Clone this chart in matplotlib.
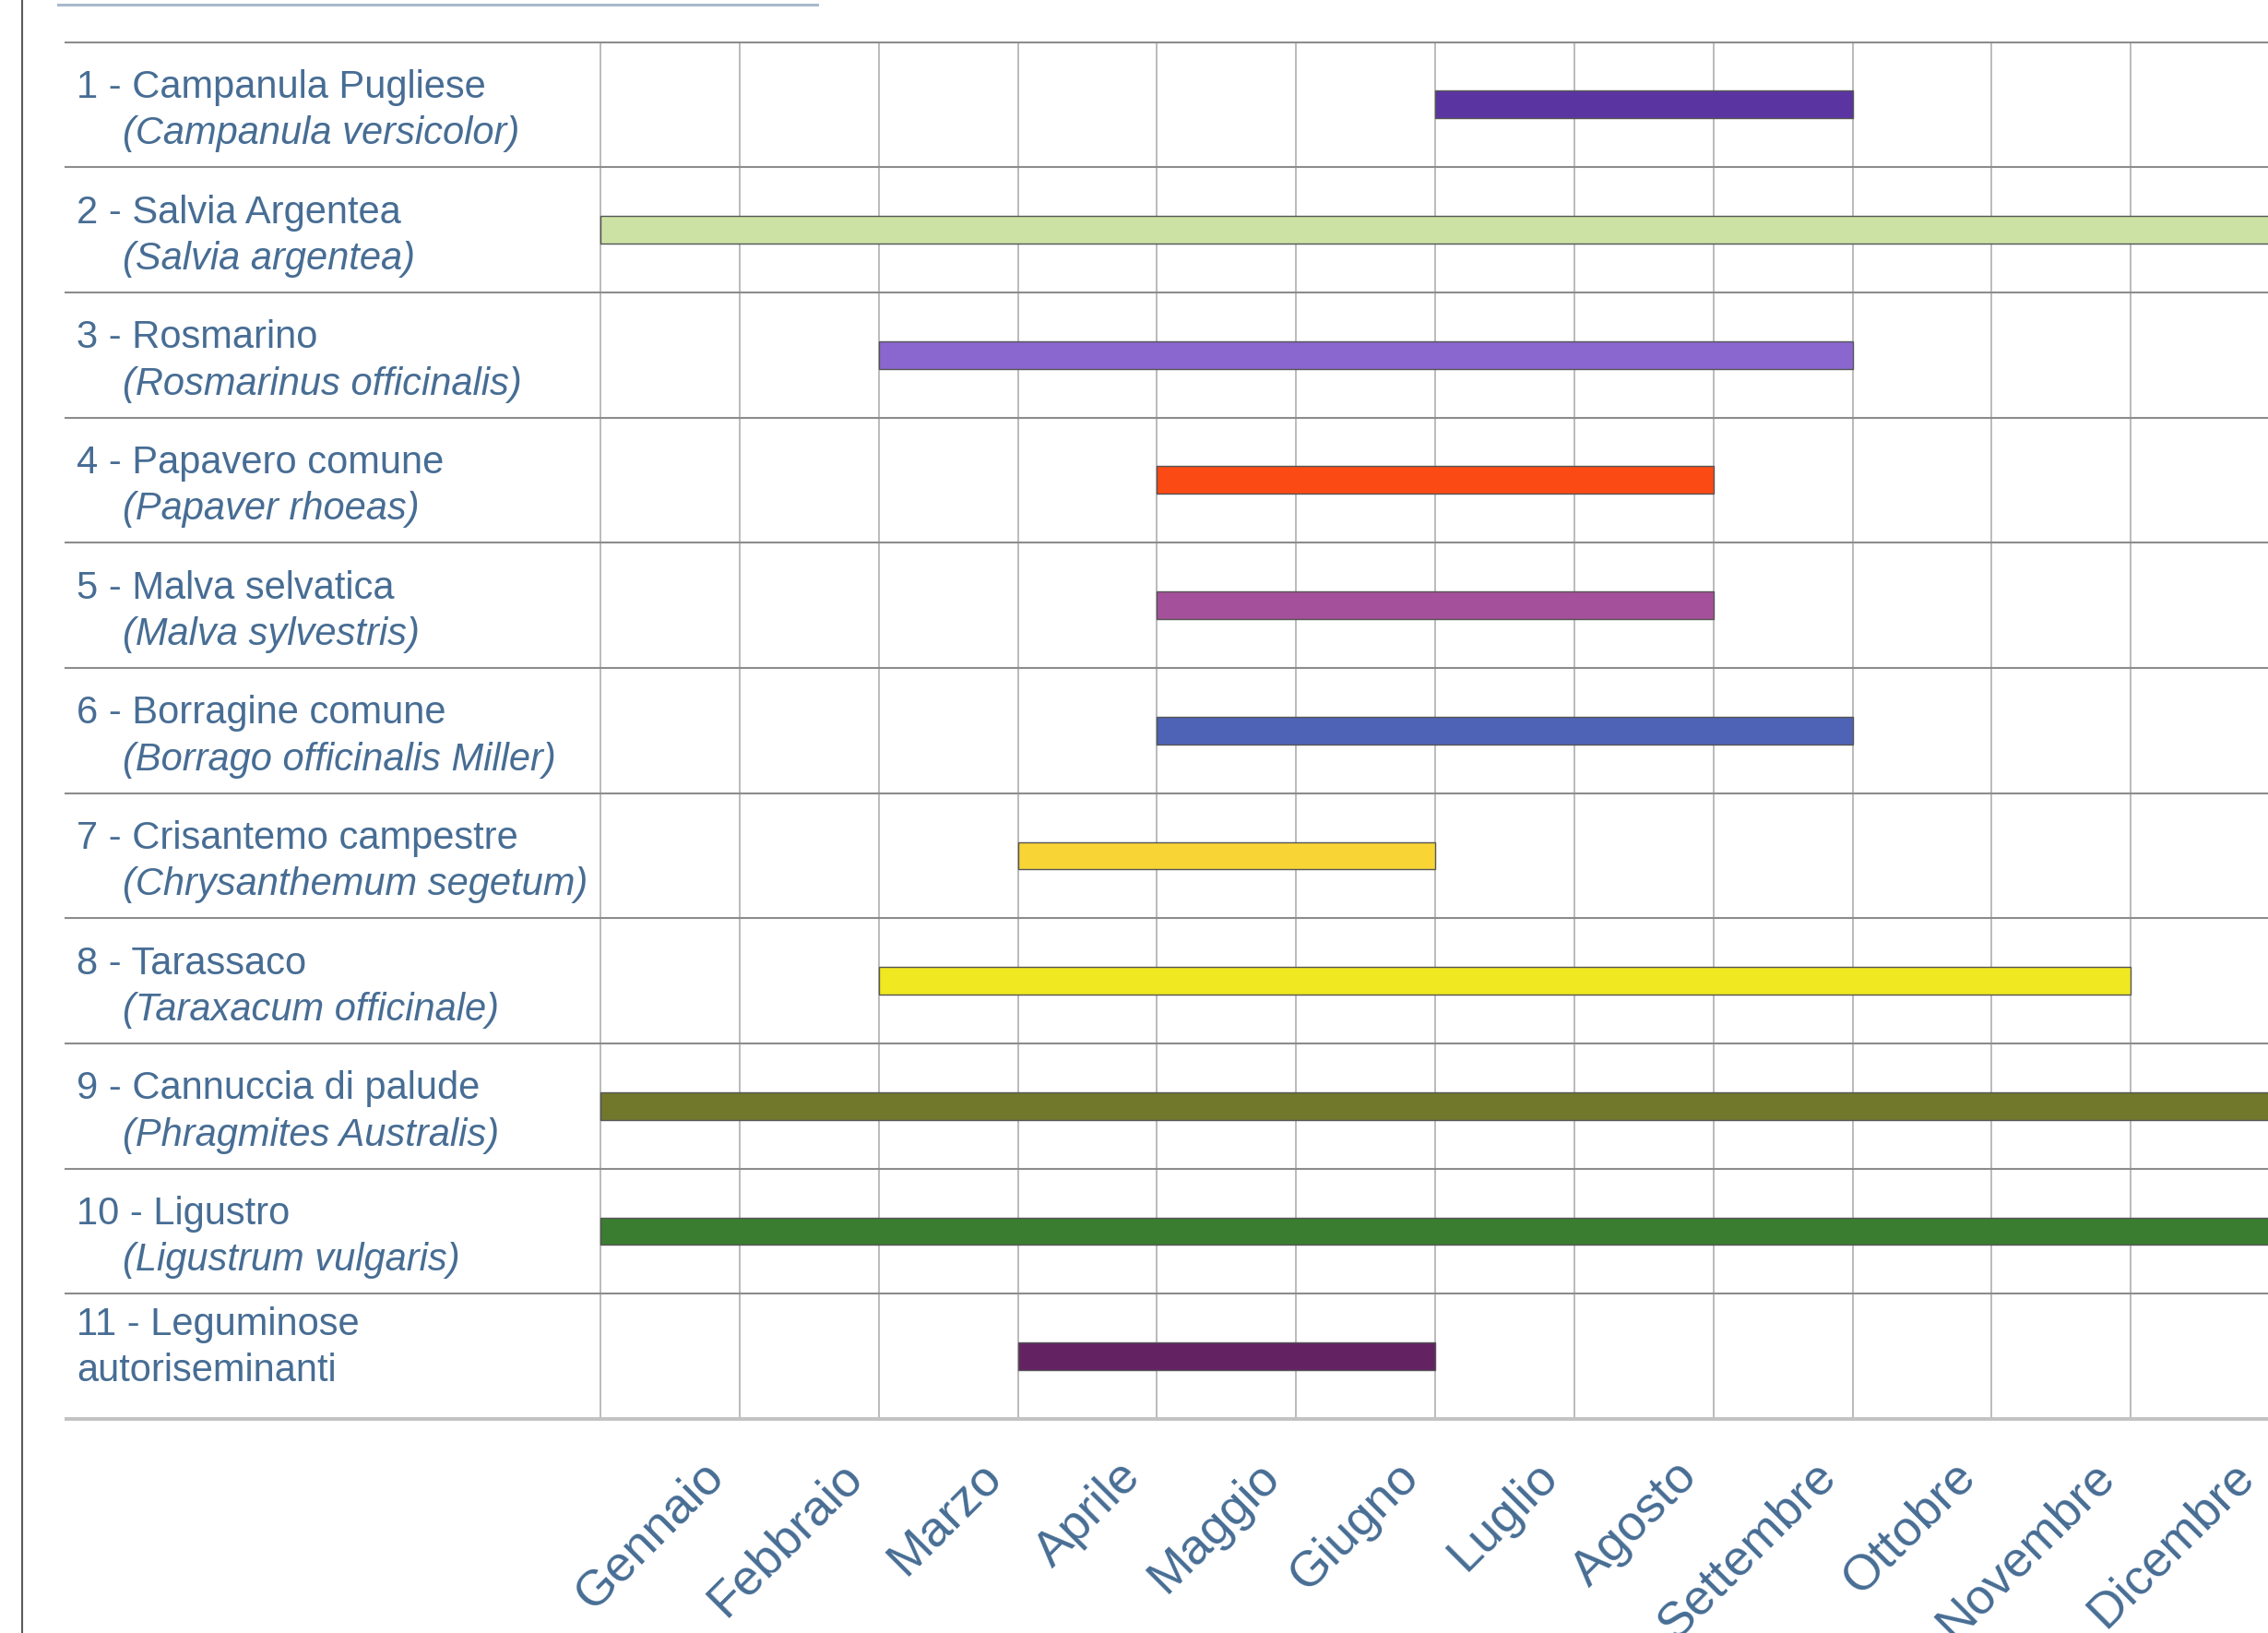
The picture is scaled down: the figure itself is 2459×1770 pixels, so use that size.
import matplotlib.pyplot as plt
from matplotlib.lines import Line2D

# Flowering calendar: month index where flowering starts / ends (0 = start of Gennaio)
months = ["Gennaio", "Febbraio", "Marzo", "Aprile", "Maggio", "Giugno",
          "Luglio", "Agosto", "Settembre", "Ottobre", "Novembre", "Dicembre"]

common_names = ["1 - Campanula Pugliese", "2 - Salvia Argentea", "3 - Rosmarino",
                "4 - Papavero comune", "5 - Malva selvatica", "6 - Borragine comune",
                "7 - Crisantemo campestre", "8 - Tarassaco", "9 - Cannuccia di palude",
                "10 - Ligustro", "11 - Leguminose\nautoriseminanti"]
latin_names = ["(Campanula versicolor)", "(Salvia argentea)", "(Rosmarinus officinalis)",
               "(Papaver rhoeas)", "(Malva sylvestris)", "(Borrago officinalis Miller)",
               "(Chrysanthemum segetum)", "(Taraxacum officinale)", "(Phragmites Australis)",
               "(Ligustrum vulgaris)", None]

start_month = [6, 0, 2, 4, 4, 4, 3, 2, 0, 0, 3]
end_month = [9, 12, 9, 8, 8, 9, 6, 11, 12, 12, 6]

bar_colors = ["#5a35a2", "#cce2a4", "#8a66cf", "#fb4a14", "#a5509a", "#4f63b6",
              "#f8d535", "#f0e820", "#71782c", "#3a7d30", "#632262"]

TEXT_COLOR = "#476d94"
FONT = ["Liberation Sans", "DejaVu Sans"]
plt.rcParams['font.family'] = FONT

W, H = 2459, 1770
fig = plt.figure(figsize=(W / 100, H / 100), dpi=100)
fig.patch.set_facecolor('white')

# chart area in pixels
left_px, right_px = 651, 651 + 12 * 150.85
top_px, bottom_px = 45.5, 1538
ax = fig.add_axes([left_px / W, 1 - bottom_px / H,
                   (right_px - left_px) / W, (bottom_px - top_px) / H])
ax.set_xlim(0, 12)
ax.set_ylim(len(common_names), 0)
ax.set_axis_off()

n = len(common_names)
centers = [i + 0.5 for i in range(n)]

# vertical month grid
ax.vlines(range(13), 0, n, colors="#a8a8a8", linewidth=1.1, zorder=1, clip_on=False)

# row separators, extended into the label column
x0 = (70.5 / W - left_px / W) / ((right_px - left_px) / W)
ax.hlines(range(n), x0, 1.01, transform=ax.get_yaxis_transform(),
          colors="#8c8c8c", linewidth=1.5, zorder=1, clip_on=False)
ax.hlines([n], x0, 1.01, transform=ax.get_yaxis_transform(),
          colors="#c2c2c2", linewidth=2.8, zorder=1, clip_on=False)

# flowering bars
widths = [e - s for s, e in zip(start_month, end_month)]
ax.barh(centers, widths, left=start_month, height=0.22, color=bar_colors,
        edgecolor="#555555", linewidth=1.0, zorder=3, clip_on=False)

# row labels
x_name = 83 / W
x_latin = 133 / W
row_h = (bottom_px - top_px) / n / H
for yc, name, latin in zip(centers, common_names, latin_names):
    ytr = ax.transData.transform((0, yc))[1]
    yfig = fig.transFigure.inverted().transform((0, ytr))[1]
    if latin is None:
        fig.text(x_name, yfig + 0.07 * row_h, name, ha='left', va='center',
                 fontsize=30, color=TEXT_COLOR, linespacing=1.33)
    else:
        fig.text(x_name, yfig + 0.135 * row_h, name, ha='left', va='center',
                 fontsize=30, color=TEXT_COLOR)
        fig.text(x_latin, yfig - 0.235 * row_h, latin, ha='left', va='center',
                 fontsize=30, color=TEXT_COLOR, style='italic')

# month labels, rotated
for i, m in enumerate(months):
    ax.text(i + 0.83, -0.0366, m, transform=ax.get_xaxis_transform(),
            rotation=45, rotation_mode='anchor', ha='right', va='center',
            fontsize=39, color=TEXT_COLOR, clip_on=False)

# frame decorations
fig.add_artist(Line2D([23.5 / W, 23.5 / W], [0, 1], color="#5a5a5a", linewidth=1.5))
fig.add_artist(Line2D([63 / W, 886 / W], [1 - 5 / H, 1 - 5 / H], color="#a8b9cc", linewidth=2.2))

fig.savefig("out.png", dpi=100, facecolor='white')
